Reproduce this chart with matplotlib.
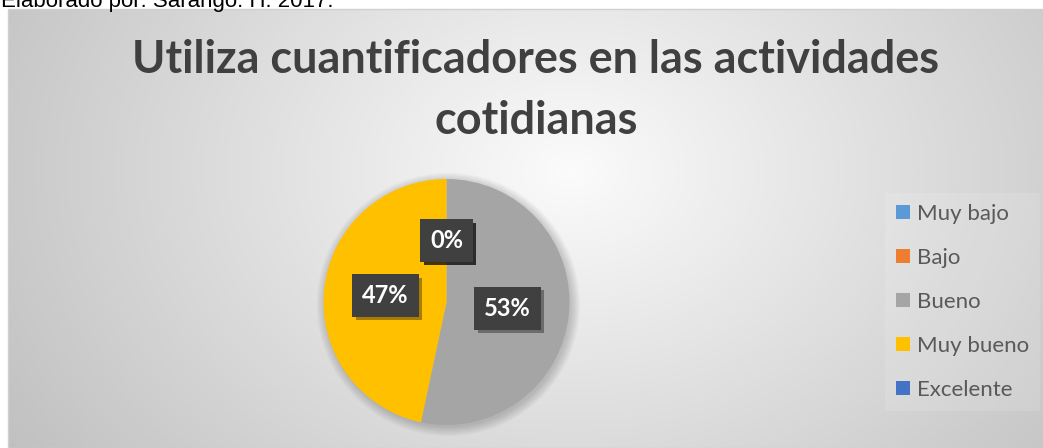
import numpy as np
import matplotlib
matplotlib.use('Agg')
import matplotlib.pyplot as plt
from matplotlib.patches import Patch, Circle, Rectangle
import matplotlib.patheffects as pe

# Data
categories = ['Muy bajo', 'Bajo', 'Bueno', 'Muy bueno', 'Excelente']
values = [0, 0, 8, 7, 0]
colors = ['#5B9BD5', '#ED7D31', '#A5A5A5', '#FFC000', '#4472C4']
title_lines = ['Utiliza cuantificadores en las actividades', 'cotidianas']
source_note = 'Elaborado por: Sarango. H. 2017.'

W, H = 1043, 448
fig = plt.figure(figsize=(W / 100, H / 100), dpi=100)
fig.patch.set_facecolor('white')

def fx(px):
    return px / W

def fy(py):
    return 1 - py / H

# Chart area with radial gradient background
x0, y0 = 8, 9
bg = fig.add_axes([fx(x0), 0, 1 - fx(x0), 1 - y0 / H])
xx, yy = np.meshgrid(np.arange(x0, W), np.arange(y0, H))
d = np.sqrt(((xx - 570) / 580.0) ** 2 + ((yy - 170) / 440.0) ** 2)
v = 0.985 - 0.2 * np.clip(d, 0, 1.15)
img = np.dstack([v, v, v])
bg.imshow(img, aspect='auto', interpolation='bilinear')
bg.axis('off')
fig.add_artist(Rectangle((fx(x0), 0), 1 - fx(x0), 1 - y0 / H, transform=fig.transFigure,
                         fill=False, edgecolor='#d0d0d0', linewidth=1))

# Source note at the top (cut off, as in the original)
fig.text(fx(1), fy(7), source_note, family='Liberation Sans', fontsize=16,
         color='black', ha='left', va='baseline')

# Title
renderer = fig.canvas.get_renderer()
t1 = fig.text(fx(536), fy(60), title_lines[0], family='Lato', fontweight='bold',
              fontsize=30, color='#404040', ha='center', va='center')
w1 = t1.get_window_extent(renderer).width
fs = 30 * 807 / w1
t1.set_fontsize(fs)
fig.text(fx(536), fy(121), title_lines[1], family='Lato', fontweight='bold',
         fontsize=fs, color='#404040', ha='center', va='center')

# Pie
cx, cy, r = 446.5, 302, 123
lim = 1.1
half = r * lim
ax = fig.add_axes([fx(cx - half), (H - cy - half) / H, 2 * half / W, 2 * half / H])
ax.set_facecolor('none')
for k, rr in enumerate(np.linspace(1.0, 1.07, 8)):
    ax.add_patch(Circle((0.015, -0.02), rr, color='black', alpha=0.025, linewidth=0))
wedges, texts, autotexts = ax.pie(values, colors=colors, startangle=90, counterclock=False,
                                  autopct='%.0f%%', pctdistance=0.5,
                                  wedgeprops=dict(linewidth=0))
for t in autotexts:
    t.set_color('white')
    t.set_fontweight('bold')
    t.set_fontsize(17)
    t.set_family('Lato')
    t.set_bbox(dict(boxstyle='square,pad=0.42', facecolor='#404040', edgecolor='none'))
    t.get_bbox_patch().set_path_effects([
        pe.SimplePatchShadow(offset=(2.5, -2.5), shadow_rgbFace='black', alpha=0.35),
        pe.Normal()])
ax.set_xlim(-lim, lim)
ax.set_ylim(-lim, lim)
ax.set_aspect('equal')
ax.axis('off')

# Legend
handles = [Patch(facecolor=c, edgecolor='none') for c in colors]
fs_leg = 16
leg = fig.legend(handles, categories, loc='center left',
                 bbox_to_anchor=(fx(885), (H - 302) / H),
                 prop={'family': 'Lato', 'size': fs_leg},
                 frameon=True, facecolor='white', framealpha=0.12, edgecolor='none',
                 fancybox=False, borderpad=0.5, borderaxespad=0,
                 handlelength=0.63, handleheight=0.63, handletextpad=0.3,
                 labelspacing=1.08)
for t in leg.get_texts():
    t.set_color('#595959')

fig.savefig('out.png', dpi=100)
